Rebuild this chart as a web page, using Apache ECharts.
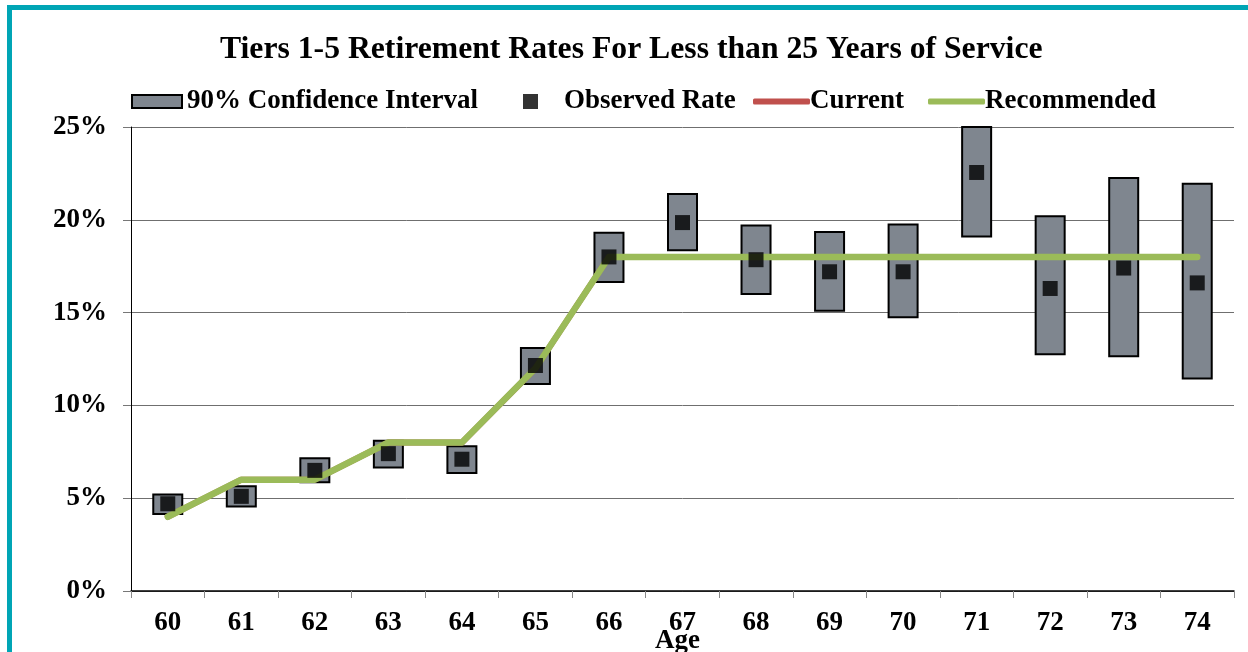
<!DOCTYPE html>
<html>
<head>
<meta charset="utf-8">
<style>
  html, body { margin: 0; padding: 0; background: #ffffff; }
  #chart { width: 1248px; height: 652px; }
</style>
<script src="https://cdn.jsdelivr.net/npm/echarts@6/dist/echarts.min.js"></script>
</head>
<body>
<div id="chart"></div>
<script>
const ages = ["60", "61", "62", "63", "64", "65", "66", "67", "68", "69", "70", "71", "72", "73", "74"];
const ciLow = [4.1, 4.5, 5.8, 6.6, 6.3, 11.1, 16.6, 18.3, 15.95, 15.05, 14.7, 19.05, 12.7, 12.6, 11.4];
const ciHigh = [5.25, 5.7, 7.2, 8.15, 7.85, 13.15, 19.35, 21.45, 19.75, 19.4, 19.8, 26.0, 20.25, 22.3, 22.0];
const observed = [4.7, 5.1, 6.5, 7.4, 7.1, 12.15, 18.0, 19.85, 17.85, 17.2, 17.2, 22.55, 16.3, 17.4, 16.6];
const current = [4, 6, 6, 8, 8, 12, 18, 18, 18, 18, 18, 18, 18, 18, 18];
const recommended = [4, 6, 6, 8, 8, 12, 18, 18, 18, 18, 18, 18, 18, 18, 18];

const serif = "'Liberation Serif', 'Times New Roman', serif";
const ciSpan = ciHigh.map((h, i) => +(h - ciLow[i]).toFixed(2));

const chart = echarts.init(document.getElementById("chart"));

function legendText(pad) {
  return { fontFamily: serif, fontWeight: "bold", fontSize: 27, color: "#000", padding: pad || 0 };
}

function legendItem(name, left, extra) {
  return Object.assign({
    data: [name],
    left: left,
    top: 88,
    padding: 0,
    itemGap: 0,
    selectedMode: false,
    textStyle: legendText()
  }, extra);
}

chart.setOption({
  animation: false,
  backgroundColor: "#ffffff",
  title: {
    text: "Tiers 1-5 Retirement Rates For Less than 25 Years of Service",
    left: 220,
    top: 34,
    padding: 0,
    textStyle: { fontFamily: serif, fontWeight: "bold", fontSize: 31.7, color: "#000" }
  },
  legend: [
    legendItem("90% Confidence Interval", 131, { itemWidth: 50, itemHeight: 13, icon: "rect" }),
    legendItem("Observed Rate", 523, { itemWidth: 15, itemHeight: 15, icon: "rect", textStyle: legendText([0, 0, 0, 21]) }),
    legendItem("Current", 753, { itemWidth: 57, itemHeight: 6, icon: "roundRect", textStyle: legendText([0, 0, 0, -5]) }),
    legendItem("Recommended", 928, { itemWidth: 57, itemHeight: 6, icon: "roundRect", textStyle: legendText([0, 0, 0, -5]) })
  ],
  graphic: [
    { type: "rect", shape: { x: 7, y: 5, width: 1241, height: 5 }, style: { fill: "#00a5b5" } },
    { type: "rect", shape: { x: 7, y: 5, width: 5, height: 647 }, style: { fill: "#00a5b5" } }
  ],
  grid: { left: 131, right: 14, top: 127, bottom: 61, outerBoundsMode: "none", containLabel: false },
  xAxis: {
    type: "category",
    data: ages,
    boundaryGap: true,
    name: "Age",
    nameLocation: "middle",
    nameGap: 37,
    nameMoveOverlap: false,
    nameTextStyle: { fontFamily: serif, fontWeight: "bold", fontSize: 27, color: "#000", padding: [0, 10, 0, 0] },
    axisLine: { lineStyle: { color: "#000", width: 1.5 } },
    axisTick: { show: true, length: 7, lineStyle: { color: "#888" } },
    axisLabel: { margin: 19, fontFamily: serif, fontWeight: "bold", fontSize: 27, color: "#000" }
  },
  yAxis: {
    type: "value",
    min: 0,
    max: 25,
    interval: 5,
    axisLine: { show: true, lineStyle: { color: "#000", width: 1 } },
    axisTick: { show: true, length: 8, lineStyle: { color: "#777" } },
    axisLabel: { margin: 24, formatter: "{value}%", fontFamily: serif, fontWeight: "bold", fontSize: 27, color: "#000" },
    splitLine: { lineStyle: { color: "#6f6f6f", width: 1 } }
  },
  series: [
    {
      name: "ciBase",
      type: "bar",
      stack: "ci",
      data: ciLow,
      barWidth: 31,
      itemStyle: { color: "transparent" },
      silent: true
    },
    {
      name: "90% Confidence Interval",
      type: "bar",
      stack: "ci",
      data: ciSpan,
      barWidth: 31,
      itemStyle: { color: "#7f868f", borderColor: "#000", borderWidth: 2 }
    },
    {
      name: "Current",
      type: "line",
      data: current,
      showSymbol: false,
      symbol: "none",
      itemStyle: { color: "#c0504d" },
      lineStyle: { color: "#c0504d", width: 6, cap: "round", join: "round" },
      z: 3
    },
    {
      name: "Recommended",
      type: "line",
      data: recommended,
      showSymbol: false,
      symbol: "none",
      itemStyle: { color: "#9bbb59" },
      lineStyle: { color: "#9bbb59", width: 6.5, cap: "round", join: "round" },
      z: 4
    },
    {
      name: "Observed Rate",
      type: "scatter",
      data: observed,
      symbol: "rect",
      symbolSize: 15,
      itemStyle: { color: "#000" },
      z: 5
    }
  ]
});
</script>
</body>
</html>
